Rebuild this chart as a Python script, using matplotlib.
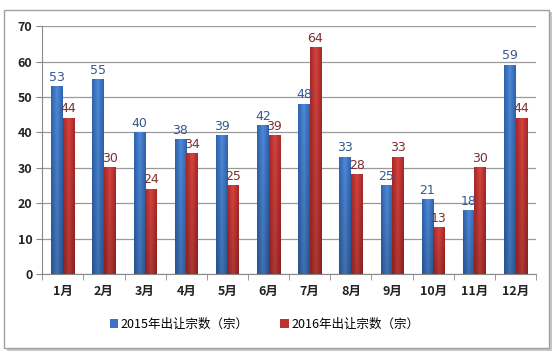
import numpy as np
import matplotlib.pyplot as plt
from matplotlib.colors import to_rgb
from matplotlib.patches import Rectangle

plt.rcParams['font.family'] = ['Noto Sans CJK SC', 'DejaVu Sans']

# data
months = ['1月', '2月', '3月', '4月', '5月', '6月', '7月', '8月', '9月', '10月', '11月', '12月']
y2015 = [53, 55, 40, 38, 39, 42, 48, 33, 25, 21, 18, 59]
y2016 = [44, 30, 24, 34, 25, 39, 64, 28, 33, 13, 30, 44]
names = ['2015年出让宗数（宗）', '2016年出让宗数（宗）']


def bar_img(edge, mid):
    # horizontal gradient edge-mid-edge, slightly darker toward the bottom
    t = np.abs(np.linspace(-1, 1, 48))
    row = np.outer(1 - t, to_rgb(mid)) + np.outer(t, to_rgb(edge))
    shade = np.linspace(1.0, 0.82, 64)[:, None, None]
    return np.clip(row[None, :, :] * shade, 0, 1)


blue_img = bar_img('#2f62ad', '#4d8ad8')
red_img = bar_img('#a52826', '#d6433f')

fig = plt.figure(figsize=(5.55, 3.55), dpi=100)

# chart border with shadow
fig.patches.append(Rectangle((0.013, 0.012), 0.982, 0.955, transform=fig.transFigure,
                             facecolor='#c8c8c8', edgecolor='none', zorder=0))
fig.patches.append(Rectangle((0.008, 0.02), 0.982, 0.952, transform=fig.transFigure,
                             facecolor='white', edgecolor='#a0a0a0', lw=1, zorder=1))

ax = fig.add_axes([0.076, 0.228, 0.89, 0.698])
ax.set_zorder(2)
ax.patch.set_alpha(0)

x = np.arange(len(months))
w = 0.28

for i in range(len(months)):
    for val, off, img, tc in [(y2015[i], -w, blue_img, '#34598f'), (y2016[i], 0, red_img, '#7d2e2c')]:
        ax.imshow(img, aspect='auto', extent=(x[i] + off, x[i] + off + w, 0, val),
                  origin='upper', zorder=3, interpolation='bilinear')
        ax.text(x[i] + off + w / 2, val + 0.8, str(val), ha='center', va='bottom',
                fontsize=9, color=tc, family=['DejaVu Sans'], zorder=4)

# legend handles
b1 = ax.bar([0], [0], color='#3a73c4', label=names[0])
b2 = ax.bar([0], [0], color='#c0302e', label=names[1])

ax.set_xlim(-0.5, len(months) - 0.5)
ax.set_ylim(0, 70)
ax.set_yticks(range(0, 71, 10))
ax.set_yticklabels([str(v) for v in range(0, 71, 10)], fontsize=9, fontweight='bold', color='#222222')
ax.set_xticks(x)
ax.set_xticklabels(months, fontsize=9, fontweight='bold', color='#222222')
ax.set_xticks(np.arange(-0.5, len(months)), minor=True)
ax.tick_params(axis='x', which='major', length=0, pad=8)
ax.tick_params(axis='x', which='minor', length=4, color='#888888')
ax.tick_params(axis='y', length=4, color='#888888', pad=3)
ax.yaxis.grid(True, color='#9a9a9a', lw=0.9)
ax.set_axisbelow(True)
for s in ['top', 'right']:
    ax.spines[s].set_visible(False)
ax.spines['left'].set_color('#888888')
ax.spines['bottom'].set_color('#888888')

ax.legend(handles=[b1, b2], loc='upper center', bbox_to_anchor=(0.45, -0.13), ncol=2, frameon=False,
          fontsize=9, handlelength=0.7, handleheight=0.7, handletextpad=0.2, columnspacing=2.5)

fig.savefig('out.png', dpi=100)
